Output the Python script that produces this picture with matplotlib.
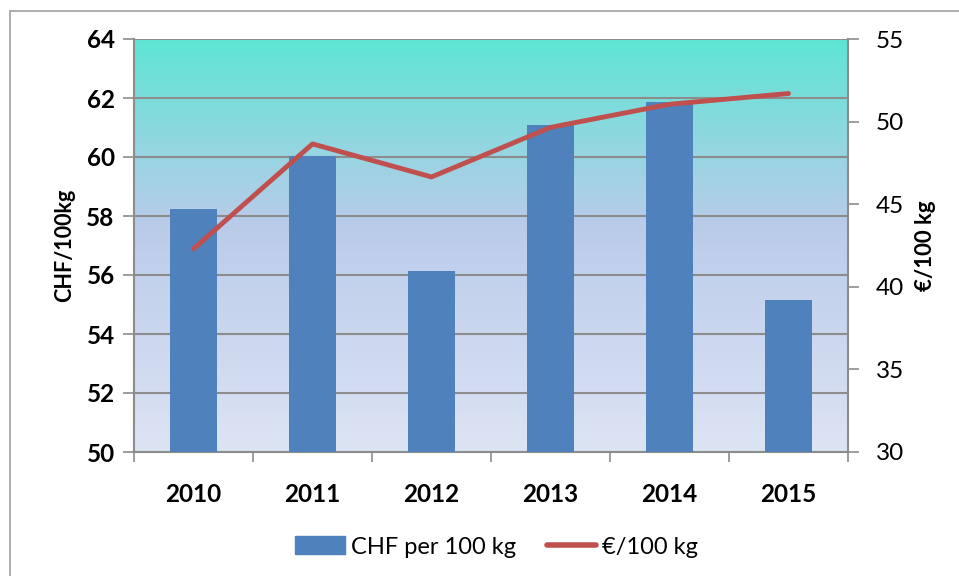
import numpy as np
import matplotlib.pyplot as plt
from matplotlib.colors import LinearSegmentedColormap
from matplotlib.patches import Rectangle
from matplotlib.lines import Line2D

years = ["2010", "2011", "2012", "2013", "2014", "2015"]
chf_per_100kg = [58.25, 60.02, 56.15, 61.08, 61.85, 55.15]
eur_per_100kg = [42.3, 48.65, 46.65, 49.65, 51.05, 51.7]

plt.rcParams["font.family"] = ["Lato", "DejaVu Sans"]

bar_color = "#4F81BD"
line_color = "#C0504D"
grid_color = "#8C8C8C"

fig = plt.figure(figsize=(9.59, 5.76), dpi=100)
ax = fig.add_axes([134 / 959, 1 - 452 / 576, (848 - 134) / 959, (452 - 39) / 576])

# outer chart border
fig.patches.append(Rectangle((10 / 959, -0.1), 1.2, 1.1 - 11 / 576,
                             transform=fig.transFigure, fill=False,
                             edgecolor="#A0A0A0", lw=1.2))

# gradient plot background
grad = LinearSegmentedColormap.from_list(
    "bg", [(0, "#DDE4F4"), (0.55, "#BACBEA"), (1, "#5EE5D4")])
x = np.arange(len(years))
ax.imshow(np.linspace(0, 1, 256).reshape(-1, 1), cmap=grad, aspect="auto",
          extent=(-0.5, len(years) - 0.5, 50, 64), origin="lower", zorder=0)

ax.bar(x, np.array(chf_per_100kg) - 50, bottom=50, width=0.4,
       color=bar_color, zorder=3)
ax.set_xlim(-0.5, len(years) - 0.5)
ax.set_ylim(50, 64)
ax.set_yticks(np.arange(50, 65, 2))
ax.yaxis.grid(True, color=grid_color, lw=1.5, zorder=1)
ax.set_axisbelow(True)
ax.set_xticks(x)
ax.set_xticklabels(years, fontsize=17.5, fontweight="bold")
ax.set_xticks(np.arange(-0.5, len(years)), minor=True)
ax.tick_params(axis="x", which="major", length=0, pad=22)
ax.tick_params(axis="x", which="minor", length=7, color=grid_color, width=1.2)
ax.tick_params(axis="y", length=8, color=grid_color, width=1.2, labelsize=17.5,
               pad=6)
for lab in ax.get_yticklabels():
    lab.set_fontweight("bold")
ax.set_ylabel("CHF/100kg", fontsize=15.5, fontweight="bold", labelpad=8)
for s in ["top", "right"]:
    ax.spines[s].set_visible(False)
for s in ["left", "bottom"]:
    ax.spines[s].set_color(grid_color)
    ax.spines[s].set_linewidth(1.5)

ax2 = ax.twinx()
ax2.plot(x, eur_per_100kg, color=line_color, lw=3.5, solid_capstyle="round",
         solid_joinstyle="round", zorder=4)
ax2.set_ylim(30, 55)
ax2.set_yticks(np.arange(30, 56, 5))
ax2.tick_params(axis="y", length=8, color=grid_color, width=1.2, labelsize=17.5,
                pad=12)
ax2.set_ylabel("€/100 kg", fontsize=16, fontweight="bold", labelpad=8)
for s in ["top", "left", "bottom"]:
    ax2.spines[s].set_visible(False)
ax2.spines["right"].set_color(grid_color)
ax2.spines["right"].set_linewidth(1.5)

handles = [Rectangle((0, 0), 1, 1, color=bar_color),
           Line2D([0], [0], color=line_color, lw=4, solid_capstyle="round")]
fig.legend(handles, ["CHF per 100 kg", "€/100 kg"], loc="center",
           bbox_to_anchor=(0.518, 1 - 547 / 576), ncol=2, frameon=False,
           fontsize=17, handlelength=2.1, handleheight=0.8, columnspacing=1.3,
           handletextpad=0.25)

fig.savefig("out.png", dpi=100)
